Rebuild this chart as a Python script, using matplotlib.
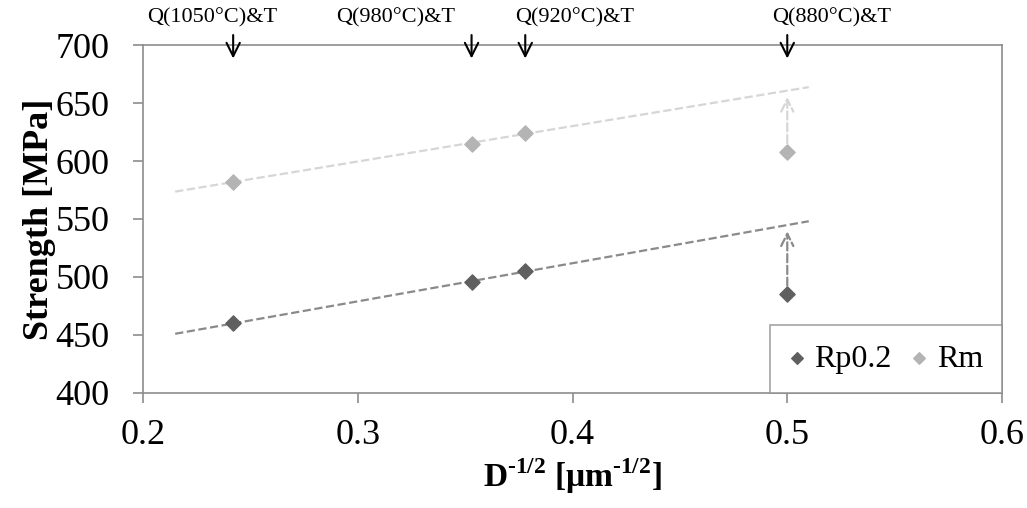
import matplotlib.pyplot as plt
import numpy as np

plt.rcParams['font.family'] = ['Liberation Serif', 'DejaVu Serif']
plt.rcParams['mathtext.fontset'] = 'custom'
plt.rcParams['mathtext.rm'] = 'Liberation Serif'
plt.rcParams['mathtext.bf'] = 'Liberation Serif:bold'

# grain size parameter D^-1/2 for each heat treatment
x_d = [0.242, 0.353, 0.378, 0.5]
rp02 = [460, 496, 505, 485]
rm = [582, 615, 624, 608]
treatments = ["Q(1050°C)&T", "Q(980°C)&T", "Q(920°C)&T", "Q(880°C)&T"]
# left edge of each treatment label (data x)
label_x = [0.2019, 0.2899, 0.3732, 0.4929]

# trend line range (fitted on the first three treatments)
x_fit = np.array([0.215, 0.51])

dark = "#5f5f5f"
light = "#b4b4b4"
grey = "#8c8c8c"

fig = plt.figure(figsize=(10.27, 5.08), dpi=100)
ax = fig.add_axes([0.1392, 0.2264, 0.8365, 0.685])

ax.scatter(x_d, rp02, marker="D", s=60, color=dark, label="Rp0.2", zorder=3)
ax.scatter(x_d, rm, marker="D", s=60, color=light, label="Rm", zorder=3)

for y, col in [(rp02, "#8a8a8a"), (rm, "#d6d6d6")]:
    k, b = np.polyfit(x_d[:3], y[:3], 1)
    ax.plot(x_fit, k * x_fit + b, ls="--", lw=1.6, color=col, zorder=2)
    # dashed arrow from the 880°C point up to the trend line
    ax.annotate("", xy=(x_d[3], k * x_d[3] + b - 3), xytext=(x_d[3], y[3] + 5),
                arrowprops=dict(arrowstyle="->", ls="--", lw=1.6, color=col,
                                mutation_scale=22))

# treatment markers above the plot
for xi, lx, lab in zip(x_d, label_x, treatments):
    ax.annotate("", xy=(xi, 686), xytext=(xi, 711),
                arrowprops=dict(arrowstyle="->", lw=1.5, color="black",
                                mutation_scale=24), annotation_clip=False)
    ax.text(lx, 715, lab, ha="left", va="bottom", fontsize=16)

ax.set_xlim(0.2, 0.6)
ax.set_ylim(400, 700)
ax.set_xticks([0.2, 0.3, 0.4, 0.5, 0.6])
ax.set_yticks(range(400, 701, 50))
ax.tick_params(labelsize=26, color=grey, length=7, width=1.2)
ax.tick_params(axis="x", pad=12)
ax.tick_params(axis="y", pad=17)
for sp in ax.spines.values():
    sp.set_color(grey)
    sp.set_linewidth(1.2)

ax.set_xlabel("D$^{\\mathregular{\u20101/2}}$ [μm$^{\\mathregular{\u20101/2}}$]", fontsize=24,
              fontweight="bold", labelpad=3)
ax.set_ylabel("Strength [MPa]", fontsize=26, fontweight="bold", labelpad=0)

leg = ax.legend(loc="lower right", ncol=2, fontsize=23, frameon=True, fancybox=False,
                handletextpad=0.3, columnspacing=0.6, borderpad=0.6,
                handlelength=0.5, borderaxespad=0)
leg.get_frame().set_edgecolor(grey)
leg.get_frame().set_linewidth(1.2)
for h in leg.legend_handles:
    h.set_sizes([35])

fig.savefig("out.png", dpi=100)
